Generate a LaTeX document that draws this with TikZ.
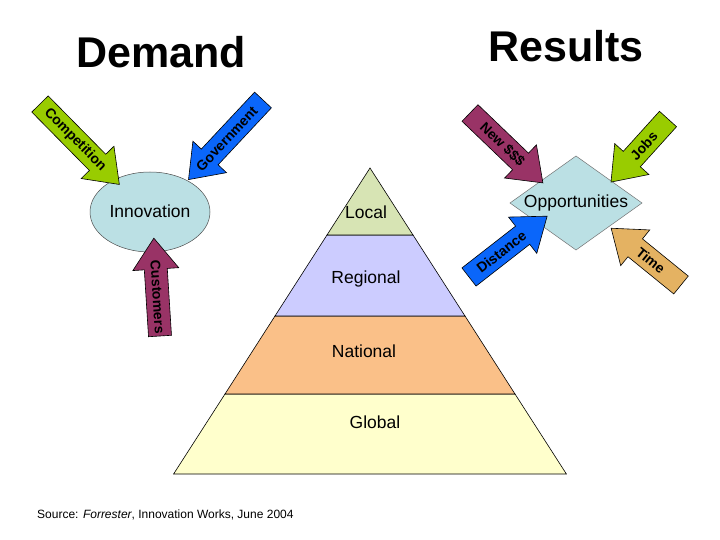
\documentclass[tikz,border=0pt]{standalone}
\usepackage{fontspec}
\setmainfont{Liberation Sans}
\definecolor{cgreen}{RGB}{153,204,0}
\definecolor{cblue}{RGB}{10,102,250}
\definecolor{cpurple}{RGB}{153,51,102}
\definecolor{ctan}{RGB}{228,178,98}
\definecolor{ccyan}{RGB}{187,224,228}
\definecolor{clocal}{RGB}{215,228,180}
\definecolor{cregional}{RGB}{204,204,255}
\definecolor{cnational}{RGB}{250,192,136}
\definecolor{cglobal}{RGB}{255,255,204}
\def\sw{11.5}
\def\hw{23}
\def\hl{31}
\newcommand{\blockarr}[8]{%
  \begin{scope}[shift={#2}, rotate=#3]
    \draw[arrline, fill=#5] (0,-\sw) -- ({#4-\hl},-\sw) -- ({#4-\hl},-\hw) -- (#4,0)
      -- ({#4-\hl},\hw) -- ({#4-\hl},\sw) -- (0,\sw) -- cycle;
    \node[arrtext, transform shape, rotate=#8] (#1) at (#7,0) {#6};
  \end{scope}}
\begin{document}
\begin{tikzpicture}[x=1pt,y=-1pt,
  arrline/.style={draw=black, line width=0.6pt, line join=miter},
  arrtext/.style={font=\fontsize{14}{14}\selectfont\bfseries, inner sep=0pt},
  lbl/.style={font=\fontsize{17.5}{18}\selectfont, inner sep=0pt},
  titletext/.style={font=\fontsize{43}{43}\selectfont\bfseries, inner sep=0pt, anchor=base},
  band/.style={draw=black, line width=0.6pt}]
\fill[white] (0,0) rectangle (720,540);
\useasboundingbox (0,0) rectangle (720,540);

% titles
\node[titletext] (demand) at (161,68) {Demand};
\node[titletext] (results) at (566,62) {Results};

% pyramid
\filldraw[band, fill=cglobal] (225,394) -- (515,394) -- (566.4,474) -- (173.6,474) -- cycle;
\filldraw[band, fill=cnational] (275,316) -- (465,316) -- (515,394) -- (225,394) -- cycle;
\filldraw[band, fill=cregional] (327,235) -- (413,235) -- (465,316) -- (275,316) -- cycle;
\filldraw[band, fill=clocal] (370,168) -- (413,235) -- (327,235) -- cycle;
\node[lbl] (local) at (366,212) {Local};
\node[lbl] (regional) at (366,279) {Regional};
\node[lbl] (national) at (364,351) {National};
\node[lbl] (global) at (375,422) {Global};

% innovation ellipse
\filldraw[fill=ccyan, draw=black!70, line width=0.5pt] (150,212) ellipse [x radius=60, y radius=40];
\node[lbl] (innov) at (150,211) {Innovation};

% opportunities diamond
\filldraw[fill=ccyan, draw=black!55, line width=0.5pt] (510,203) -- (576,156) -- (642,203) -- (576,250) -- cycle;
\node[lbl] (opp) at (576,203) {Opportunities};

% block arrows
\blockarr{comp}{(40,104)}{-45.4}{113}{cgreen}{Competition}{50}{0}
\blockarr{gov}{(263,100)}{-133.1}{109}{cblue}{Government}{53}{180}
\blockarr{cust}{(160,336)}{93.6}{98}{cpurple}{Customers}{39}{180}
\blockarr{newd}{(470,113)}{-43.8}{101}{cpurple}{New \$\$\$}{45}{0}
\blockarr{jobs}{(668,119)}{-132.1}{85}{cgreen}{Jobs}{36}{180}
\blockarr{dist}{(469,277)}{37.9}{99}{cblue}{Distance}{41}{0}
\blockarr{time}{(681,285)}{140.9}{90}{ctan}{Time}{39}{180}

% source
\node[font=\fontsize{12}{12}\selectfont, anchor=west, inner sep=0pt] (source) at (37,515)
  {Source: \textit{Forrester}, Innovation Works, June 2004};
\end{tikzpicture}
\end{document}
